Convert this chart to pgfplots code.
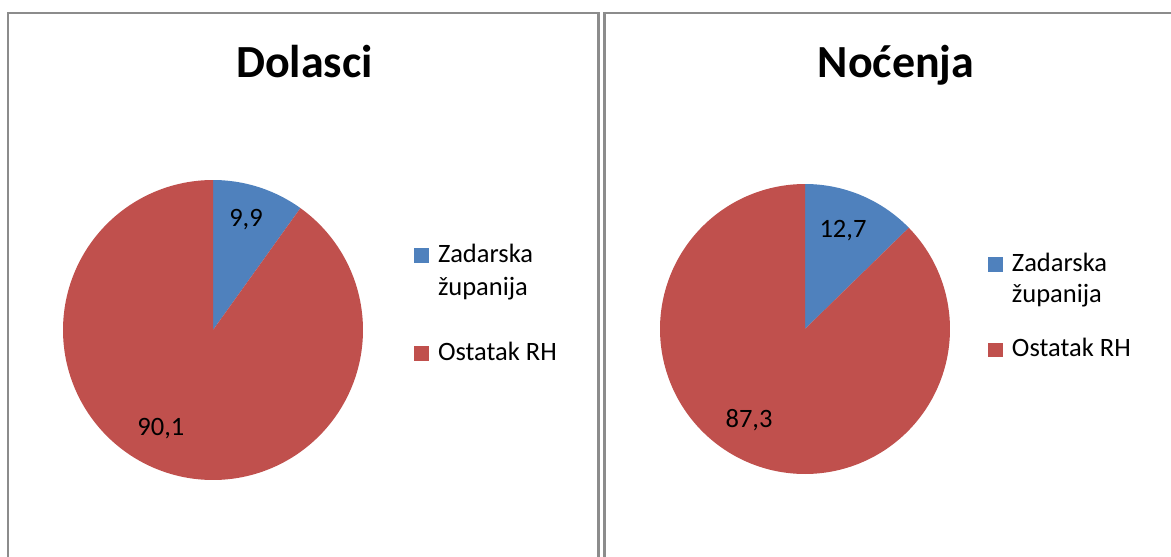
\documentclass[border=0pt]{standalone}
\usepackage{pgfplots}
\usepackage{pgfplotstable}
\pgfplotsset{compat=1.18}
\usepackage{fontspec}
\setmainfont{Carlito}
\definecolor{pieblue}{HTML}{4F81BD}
\definecolor{piered}{HTML}{C0504D}
\definecolor{frame}{HTML}{8C8C8C}

\pgfplotstableread{
part value
Zadarska 9.9
Ostatak 90.1
}\dolasci
\pgfplotstableread{
part value
Zadarska 12.7
Ostatak 87.3
}\nocenja

\tikzset{labelfont/.style={font=\fontsize{26.5}{32}\selectfont, anchor=base, inner sep=0pt}}
\pgfplotsset{
  pie/.style={
    anchor=origin, hide axis, clip=false,
    xmin=-1, xmax=1, ymin=-1, ymax=1,
    legend cell align=left,
    legend image code/.code={\fill[##1] (0pt,-0.5pt) rectangle (14.4pt,14pt);},
    legend style={draw=none, fill=none, anchor=north west, inner sep=0pt,
      cells={anchor=base west, inner sep=0pt},
      /tikz/every odd column/.append style={column sep=7.4pt}},
  },
}

\begin{document}
\begin{tikzpicture}[x=1pt,y=1pt]
\useasboundingbox (0,0) rectangle (1171,-557);
\fill[white] (0,0) rectangle (1171,-557);
% panel frames
\draw[frame, line width=2.2pt] (8,-600) -- (8,-13) -- (598.5,-13) -- (598.5,-600);
\draw[frame, line width=2.2pt] (604.5,-600) -- (604.5,-13) -- (1200,-13);
\node[font=\fontsize{46}{54}\selectfont\bfseries, anchor=base] at (304.5,-77) {Dolasci};
\node[font=\fontsize{46}{54}\selectfont\bfseries, anchor=base] at (896,-77) {Noćenja};

% ---------- Dolasci ----------
\pgfplotstablegetelem{0}{value}\of\dolasci \let\va\pgfplotsretval
\pgfmathsetmacro{\angA}{90-3.6*\va}
\begin{axis}[pie, at={(213pt,-330pt)}, x=150pt, y=150pt,
  legend style={at={(1.17,0.795)}, row sep=74pt,
    font=\fontsize{26.5}{33}\selectfont}]
\addplot[fill=pieblue, draw=none, domain=\angA:90, samples=60]
  ({cos(x)},{sin(x)}) -- (0,0) -- cycle;
\addplot[fill=piered, draw=none, domain=-270:\angA, samples=240]
  ({cos(x)},{sin(x)}) -- (0,0) -- cycle;
\node[labelfont] at (axis cs:0.22,0.693) {9,9};
\node[labelfont] at (axis cs:-0.347,-0.70) {90,1};
\legend{{\parbox[t]{4cm}{Zadarska\\županija}}, Ostatak RH}
\end{axis}

% ---------- Nocenja ----------
\pgfplotstablegetelem{0}{value}\of\nocenja \let\vb\pgfplotsretval
\pgfmathsetmacro{\angB}{90-3.6*\vb}
\begin{axis}[pie, at={(805pt,-329pt)}, x=145pt, y=145pt,
  legend style={at={(1.131,0.771)}, row sep=62pt,
    font=\fontsize{26.5}{31}\selectfont}]
\addplot[fill=pieblue, draw=none, domain=\angB:90, samples=60]
  ({cos(x)},{sin(x)}) -- (0,0) -- cycle;
\addplot[fill=piered, draw=none, domain=-270:\angB, samples=240]
  ({cos(x)},{sin(x)}) -- (0,0) -- cycle;
\node[labelfont] at (axis cs:0.262,0.628) {12,7};
\node[labelfont] at (axis cs:-0.386,-0.681) {87,3};
\legend{{\parbox[t]{4cm}{Zadarska\\županija}}, Ostatak RH}
\end{axis}
\end{tikzpicture}
\end{document}
